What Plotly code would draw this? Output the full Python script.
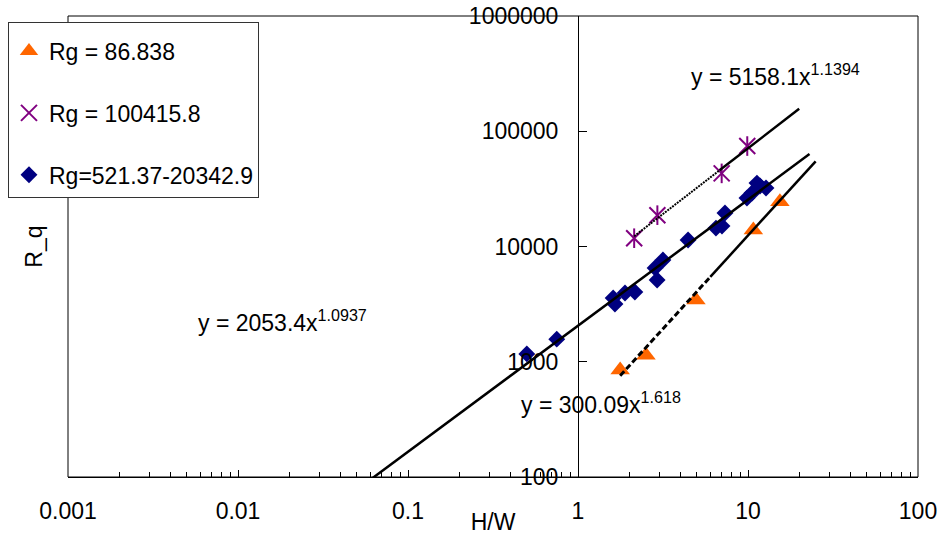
import numpy as np
import plotly.graph_objects as go

# ---- measured points -------------------------------------------------------
tri_hw = [1.77, 2.51, 4.94, 10.75, 15.4]
tri_rq = [850, 1140, 3430, 13900, 24500]

star_hw = [2.14, 2.93, 7.0, 9.9]
star_rq = [11800, 18700, 43100, 74400]

dia_hw = [0.50, 0.75, 1.61, 1.65, 1.89, 2.16, 2.84, 2.92, 3.16, 4.44,
          6.48, 7.03, 7.32, 9.86, 10.56, 11.29, 11.77, 12.76]
dia_rq = [1170, 1570, 3570, 3170, 3950, 4030, 6500, 5120, 7630, 11400,
          14450, 15050, 19500, 26300, 29100, 35500, 33500, 32200]

series_names = ["Rg = 86.838", "Rg = 100415.8", "Rg=521.37-20342.9"]

# ---- power-law trendlines  y = a * x^b ------------------------------------
tri_a, tri_b = 300.09, 1.618
star_a, star_b = 5158.1, 1.1394
dia_a, dia_b = 2053.4, 1.0937

# x extents of each trendline (start, style change, end)
tri_span = [1.77, 6.0, 25.0]
star_span = [2.14, 6.8, 20.0]
dia_span = [0.05, 23.0]

x_tick_vals = [0.001, 0.01, 0.1, 1, 10, 100]
x_tick_text = ["0.001", "0.01", "0.1", "1", "10", "100"]
y_tick_vals = [100, 1000, 10000, 100000, 1000000]
y_tick_text = ["100", "1000", "10000", "100000", "1000000"]

FONT = "Liberation Sans, Arial, sans-serif"
ORANGE = "#FF6600"
PURPLE = "#800080"
NAVY = "#000080"


def power_curve(a, b, x0, x1, n=60):
    xs = np.logspace(np.log10(x0), np.log10(x1), n)
    return xs, a * xs ** b


fig = go.Figure()

# markers
fig.add_trace(go.Scatter(
    x=tri_hw, y=tri_rq, mode="markers", name=series_names[0],
    legendgroup="g1",
    marker=dict(symbol="triangle-up", size=17, color=ORANGE, line=dict(width=0)),
))
fig.add_trace(go.Scatter(
    x=star_hw, y=star_rq, mode="markers", name=series_names[1],
    legendgroup="g2",
    marker=dict(symbol="x-thin-open", size=16, color=PURPLE,
                line=dict(width=2, color=PURPLE)),
))
fig.add_trace(go.Scatter(
    x=star_hw, y=star_rq, mode="markers", showlegend=False,
    legendgroup="g2", hoverinfo="skip",
    marker=dict(symbol="line-ns-open", size=14, color=PURPLE,
                line=dict(width=2, color=PURPLE)),
))
fig.add_trace(go.Scatter(
    x=dia_hw, y=dia_rq, mode="markers", name=series_names[2],
    legendgroup="g3",
    marker=dict(symbol="diamond", size=13, color=NAVY, line=dict(width=0)),
))

# trendlines
x, y = power_curve(dia_a, dia_b, dia_span[0], dia_span[1])
fig.add_trace(go.Scatter(x=x, y=y, mode="lines", showlegend=False,
                         hoverinfo="skip", line=dict(color="black", width=2.5)))

x, y = power_curve(star_a, star_b, star_span[0], star_span[1])
fig.add_trace(go.Scatter(x=x, y=y, mode="lines", showlegend=False,
                         hoverinfo="skip",
                         line=dict(color="black", width=2, dash="2px,1px")))
x, y = power_curve(star_a, star_b, star_span[1], star_span[2])
fig.add_trace(go.Scatter(x=x, y=y, mode="lines", showlegend=False,
                         hoverinfo="skip", line=dict(color="black", width=2.5)))

x, y = power_curve(tri_a, tri_b, tri_span[0], tri_span[1])
fig.add_trace(go.Scatter(x=x, y=y, mode="lines", showlegend=False,
                         hoverinfo="skip",
                         line=dict(color="black", width=3, dash="6px,3px")))
x, y = power_curve(tri_a, tri_b, tri_span[1], tri_span[2])
fig.add_trace(go.Scatter(x=x, y=y, mode="lines", showlegend=False,
                         hoverinfo="skip", line=dict(color="black", width=2.5)))

# equation labels
eq_font = dict(family=FONT, size=23, color="black")
equations = [
    (f"y = {star_a}x<sup>{star_b}</sup>", 0.655, 5.485),
    (f"y = {dia_a}x<sup>{dia_b}</sup>", -2.25, 3.35),
    (f"y = {tri_a}x<sup>{tri_b}</sup>", -0.35, 2.64),
]
for text, lx, ly in equations:
    fig.add_annotation(x=lx, y=ly, xref="x", yref="y", text=text,
                       showarrow=False, xanchor="left", yanchor="middle",
                       font=eq_font)

# vertical axis title
fig.add_annotation(x=-0.041, y=0.5, xref="paper", yref="paper", text="R_q",
                   textangle=-90, showarrow=False, font=eq_font,
                   xanchor="center", yanchor="middle")

# plot-area frame
fig.add_shape(type="rect", xref="paper", yref="paper", x0=0, y0=0, x1=1, y1=1,
              line=dict(color="black", width=1), layer="above")

fig.update_layout(
    width=941, height=535,
    margin=dict(l=68, r=23, t=16, b=58, autoexpand=False),
    paper_bgcolor="white", plot_bgcolor="white",
    font=dict(family=FONT, size=23, color="black"),
    showlegend=True,
    legend=dict(
        x=-0.0706, y=0.987, xanchor="left", yanchor="top",
        bgcolor="white", bordercolor="#333", borderwidth=1,
        font=dict(family=FONT, size=23, color="black"),
        title=dict(text=" ", font=dict(size=5)),
        tracegroupgap=29, itemsizing="trace",
    ),
    xaxis=dict(
        type="log", range=[-3, 2], automargin=False,
        tickvals=x_tick_vals, ticktext=x_tick_text,
        ticks="inside", ticklen=7, tickcolor="black",
        minor=dict(ticks="inside", ticklen=5, dtick="D1", tickcolor="black",
                   showgrid=False),
        showline=True, linecolor="black", linewidth=1,
        showgrid=False, zeroline=False,
        ticklabelstandoff=13,
        title=dict(text="H/W", standoff=0, font=dict(size=23)),
    ),
    yaxis=dict(
        type="log", range=[2, 6], automargin=False,
        anchor="free", position=0.6,
        tickvals=y_tick_vals, ticktext=y_tick_text,
        ticks="inside", ticklen=8, tickcolor="black",
        showline=True, linecolor="black", linewidth=1,
        showgrid=False, zeroline=False,
        ticklabelstandoff=15,
    ),
)

fig.write_html("out.html")
